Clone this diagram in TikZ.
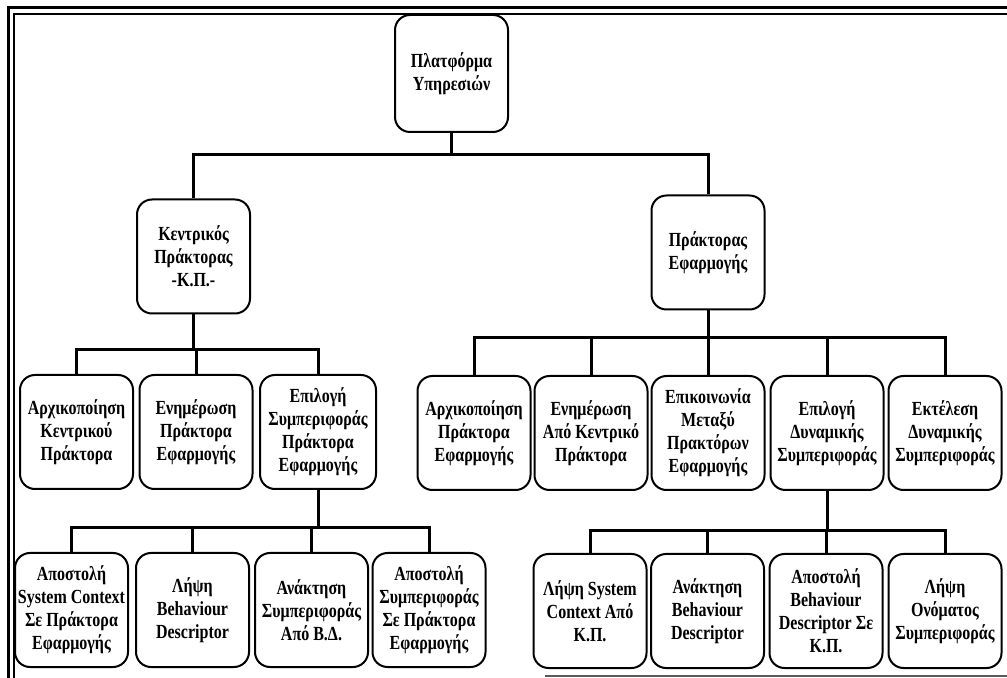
\documentclass[tikz,border=0pt]{standalone}
\usepackage{fontspec}
\setmainfont{Liberation Serif}[FakeStretch=0.8]

\begin{document}
\begin{tikzpicture}[x=0.5pt, y=-0.5pt,
	box/.style={draw, line width=1pt, rounded corners=7.5pt, align=center, inner sep=1pt,
		minimum width=56.5pt, minimum height=57pt, font=\fontsize{10}{11.5}\selectfont\bfseries},
	link/.style={line width=1.5pt}]
	\useasboundingbox (0,0) rectangle (1007,678);
	\draw[line width=1.5pt] (1007,8) -- (8,8) -- (8,678);
	\draw[line width=1pt] (1007,14) -- (14,14) -- (14,678);
	\draw[line width=1pt, black!65] (545,676) -- (1007,676);

	\node[box, minimum height=58.5pt] (plat) at (451.5, 73.5) {Πλατφόρμα\\Υπηρεσιών};
	\node[box] (cent) at (193.5, 256.5) {Κεντρικός\\Πράκτορας\\-Κ.Π.-};
	\node[box] (app) at (708, 252.5) {Πράκτορας\\Εφαρμογής};

	\node[box] (cinit) at (76.5, 432) {Αρχικοποίηση\\Κεντρικού\\Πράκτορα};
	\node[box] (cupd) at (196, 432) {Ενημέρωση\\Πράκτορα\\Εφαρμογής};
	\node[box, minimum width=58pt] (csel) at (318, 432) {Επιλογή\\Συμπεριφοράς\\Πράκτορα\\Εφαρμογής};

	\node[box] (ainit) at (474, 433) {Αρχικοποίηση\\Πράκτορα\\Εφαρμογής};
	\node[box] (aupd) at (591, 433) {Ενημέρωση\\Από Κεντρικό\\Πράκτορα};
	\node[box] (acomm) at (708, 433) {Επικοινωνία\\Μεταξύ\\Πρακτόρων\\Εφαρμογής};
	\node[box] (asel) at (827, 433) {Επιλογή\\Δυναμικής\\Συμπεριφοράς};
	\node[box] (aexec) at (945, 433) {Εκτέλεση\\Δυναμικής\\Συμπεριφοράς};

	\node[box] (ssend) at (71.5, 610) {Αποστολή\\System Context\\Σε Πράκτορα\\Εφαρμογής};
	\node[box] (sget) at (192.5, 610) {Λήψη\\Behaviour\\Descriptor};
	\node[box] (sretr) at (311.5, 610) {Ανάκτηση\\Συμπεριφοράς\\Από Β.Δ.};
	\node[box] (sbeh) at (429, 610) {Αποστολή\\Συμπεριφοράς\\Σε Πράκτορα\\Εφαρμογής};

	\node[box] (dget) at (590, 611) {Λήψη System\\Context Από\\Κ.Π.};
	\node[box] (dretr) at (707.5, 611) {Ανάκτηση\\Behaviour\\Descriptor};
	\node[box] (dsend) at (826, 611) {Αποστολή\\Behaviour\\Descriptor Σε\\Κ.Π.};
	\node[box] (dname) at (945, 611) {Λήψη\\Ονόματος\\Συμπεριφοράς};

	\draw[link] (plat.south) -- ++(0,22) -| (cent.north);
	\draw[link] (plat.south) -- ++(0,22) -| (app.north);

	\draw[link] (cent.south) -- ++(0,35) -| (cinit.north);
	\draw[link] (cent.south) -- ++(0,35) -| (cupd.north);
	\draw[link] (cent.south) -- ++(0,35) -| (csel.north);

	\draw[link] (app.south) -- ++(0,27) -| (ainit.north);
	\draw[link] (app.south) -- ++(0,27) -| (aupd.north);
	\draw[link] (app.south) -- ++(0,27) -| (acomm.north);
	\draw[link] (app.south) -- ++(0,27) -| (asel.north);
	\draw[link] (app.south) -- ++(0,27) -| (aexec.north);

	\draw[link] (csel.south) -- ++(0,38) -| (ssend.north);
	\draw[link] (csel.south) -- ++(0,38) -| (sget.north);
	\draw[link] (csel.south) -- ++(0,38) -| (sretr.north);
	\draw[link] (csel.south) -- ++(0,38) -| (sbeh.north);

	\draw[link] (asel.south) -- ++(0,40) -| (dget.north);
	\draw[link] (asel.south) -- ++(0,40) -| (dretr.north);
	\draw[link] (asel.south) -- ++(0,40) -| (dsend.north);
	\draw[link] (asel.south) -- ++(0,40) -| (dname.north);
\end{tikzpicture}
\end{document}
